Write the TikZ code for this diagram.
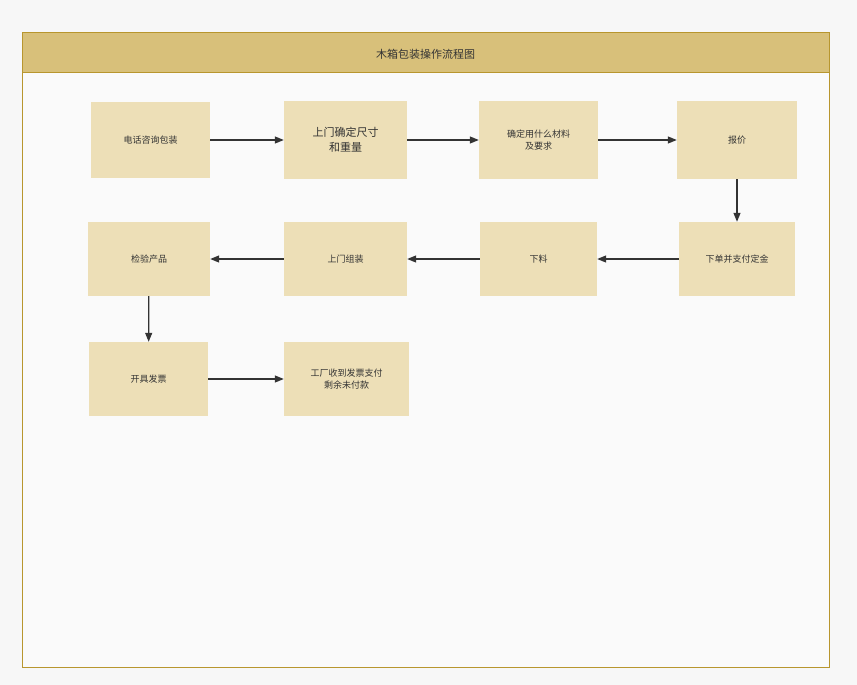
\documentclass[tikz,border=0pt]{standalone}
\usepackage{fontspec}
\setmainfont{Noto Sans CJK SC}
\usetikzlibrary{arrows.meta}
\definecolor{boxfill}{HTML}{EDDFB7}
\definecolor{headfill}{HTML}{D8C07A}
\definecolor{frame}{HTML}{B8962E}
\definecolor{txt}{HTML}{333333}
\tikzset{
  stepbox/.style={fill=boxfill,draw=none,align=center,text=txt,font=\fontsize{9}{12}\selectfont,inner sep=0pt},
  conn/.style={draw=txt,line width=1.2pt,-{Triangle[length=9pt,width=7pt]}}
}
\newcommand{\bx}[6]{\node[stepbox,minimum width=#4-#2,minimum height=#5-#3] (#1) at ({(#2+#4)/2},{(#3+#5)/2}) {#6};}
\begin{document}
\begin{tikzpicture}[x=1pt,y=-1pt]
\useasboundingbox (0,0) rectangle (857,685);
\fill[white!97!black] (0,0) rectangle (857,685);
\draw[frame,fill=white!98!black,line width=1pt] (22,33) rectangle (829,667);
\draw[frame,fill=headfill,line width=1pt] (22,33) rectangle (829,73);
\node[text=txt,font=\fontsize{11}{13}\selectfont] (title) at (425.5,54) {木箱包装操作流程图};
\bx{a}{91}{102}{210}{178}{电话咨询包装}
\node[stepbox,minimum width=123,minimum height=78,font=\fontsize{11}{15}\selectfont] (b) at (345.5,140) {上门确定尺寸\\和重量};
\bx{c}{479}{101}{598}{179}{确定用什么材料\\及要求}
\bx{d}{677}{101}{797}{179}{报价}
\bx{e}{679}{222}{795}{296}{下单并支付定金}
\bx{f}{480}{222}{597}{296}{下料}
\bx{g}{284}{222}{407}{296}{上门组装}
\bx{h}{88}{222}{210}{296}{检验产品}
\bx{i}{89}{342}{208}{416}{开具发票}
\bx{j}{284}{342}{409}{416}{工厂收到发票支付\\剩余未付款}
\draw[conn] (a) -- (b);
\draw[conn] (b) -- (c);
\draw[conn] (c) -- (d);
\draw[conn] (d) -- (e);
\draw[conn] (e) -- (f);
\draw[conn] (f) -- (g);
\draw[conn] (g) -- (h);
\draw[conn] (h) -- (i);
\draw[conn] (i) -- (j);
\end{tikzpicture}
\end{document}
